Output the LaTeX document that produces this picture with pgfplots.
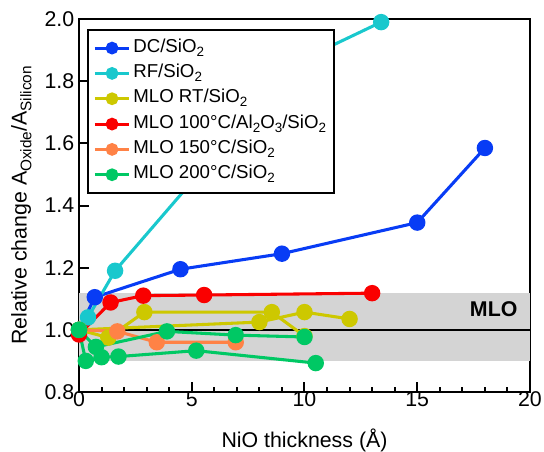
\documentclass[border=0pt]{standalone}
\usepackage{fontspec}
\setmainfont{Liberation Sans}
\usepackage{graphicx}
\usepackage{pgfplots}
\pgfplotsset{compat=1.18}
\definecolor{dcblue}{RGB}{8,60,245}
\definecolor{rfcyan}{RGB}{25,200,205}
\definecolor{rtolive}{RGB}{205,200,0}
\definecolor{hotred}{RGB}{250,0,0}
\definecolor{mloorange}{RGB}{255,130,70}
\definecolor{mlogreen}{RGB}{0,200,100}
\definecolor{bandgray}{RGB}{212,212,212}
\newcommand\ff{\fontsize{16}{19}\selectfont}
\newcommand\lf{\fontsize{14}{16}\selectfont}
\newcommand\sub[1]{\raisebox{-0.22em}{\scalebox{0.72}{#1}}}

\begin{document}
\begin{tikzpicture}
% page = 544x451 px at 0.75pt/px, axis box at (0,0)-(338.25pt,279.75pt)
\useasboundingbox (-59.25pt,-44.25pt) rectangle (348.75pt,294pt);
\begin{axis}[
    at={(0,0)}, anchor=south west,
    scale only axis,
    width=338.25pt, height=279.75pt,
    xmin=0, xmax=20, ymin=0.8, ymax=2.0,
    xtick={0,5,10,15,20}, minor x tick num=4,
    ytick={0.8,1,1.2,1.4,1.6,1.8,2},
    xtick pos=bottom, ytick pos=left,
    tick align=inside,
    major tick length=7.5pt, minor tick length=3.75pt,
    every tick/.style={black, line width=1.5pt},
    axis line style={line width=1.9pt},
    /pgf/number format/assume math mode=true,
    yticklabel style={/pgf/number format/fixed, /pgf/number format/fixed zerofill,
        /pgf/number format/precision=1},
    ticklabel style={font=\ff},
    xticklabel style={yshift=4pt},
    xlabel={NiO thickness (Å)},
    ylabel={Relative change A\sub{Oxide}/A\sub{Silicon}},
    label style={font=\ff},
    xlabel style={at={(axis description cs:0.5,-0.1287)}, anchor=center},
    ylabel style={at={(axis description cs:-0.128,0.5)}, anchor=center},
    clip=false,
    every axis plot/.append style={line width=2.3pt, mark=*, mark size=5pt},
    legend image code/.code={
        \draw[mark repeat=2, mark phase=2, #1, mark size=3.6pt]
        plot coordinates {(0cm,0cm) (0.45cm,0cm) (0.9cm,0cm)};},
    legend cell align=left,
    legend style={at={(axis description cs:0.018,0.973)}, anchor=north west,
        draw=black, line width=1.5pt, font=\lf, inner sep=4pt, row sep=0pt,
        nodes={inner sep=2pt, text height=10.5pt, text depth=4.5pt}},
]
% MLO band and reference line
\addplot[draw=none, fill=bandgray, mark=none, forget plot]
    coordinates {(0,0.9) (20,0.9) (20,1.12) (0,1.12)} -- cycle;
\addplot[black, line width=1.5pt, mark=none, forget plot]
    coordinates {(0,1) (20,1)};
\node[anchor=east, font=\ff\bfseries] at (axis cs:19.65,1.065) {MLO};

\addplot[dcblue, mark options={fill=dcblue}]
    coordinates {(0,1) (0.7,1.105) (4.5,1.195) (9,1.245) (15,1.345) (18,1.585)};
\addlegendentry{DC/SiO\sub{2}}

\addplot[rfcyan, mark options={fill=rfcyan}]
    coordinates {(0,1) (0.4,1.04) (1.6,1.19) (9.5,1.855) (13.4,1.99)};
\addlegendentry{RF/SiO\sub{2}}

\addplot[rtolive, mark options={fill=rtolive}]
    coordinates {(0,1) (1.3,0.975) (2.9,1.057) (8.55,1.057) (10,0.98)};
\addlegendentry{MLO RT/SiO\sub{2}}
\addplot[rtolive, mark options={fill=rtolive}, forget plot]
    coordinates {(0,1) (8,1.025) (10,1.057) (12,1.035)};

\addplot[hotred, mark options={fill=hotred}]
    coordinates {(0,0.985) (1.4,1.088) (2.85,1.11) (5.55,1.112) (13,1.118)};
\addlegendentry{MLO 100°C/Al\sub{2}O\sub{3}/SiO\sub{2}}

\addplot[mloorange, mark options={fill=mloorange}]
    coordinates {(0,1) (1.7,0.995) (3.45,0.96) (6.95,0.96)};
\addlegendentry{MLO 150°C/SiO\sub{2}}

\addplot[mlogreen, mark options={fill=mlogreen}]
    coordinates {(0,1) (0.3,0.9) (1,0.912) (1.75,0.914) (5.2,0.933) (10.5,0.893)};
\addlegendentry{MLO 200°C/SiO\sub{2}}
\addplot[mlogreen, mark options={fill=mlogreen}, forget plot]
    coordinates {(0,1) (0.75,0.945) (3.9,0.995) (6.95,0.983) (10,0.977)};
\end{axis}
\end{tikzpicture}
\end{document}
